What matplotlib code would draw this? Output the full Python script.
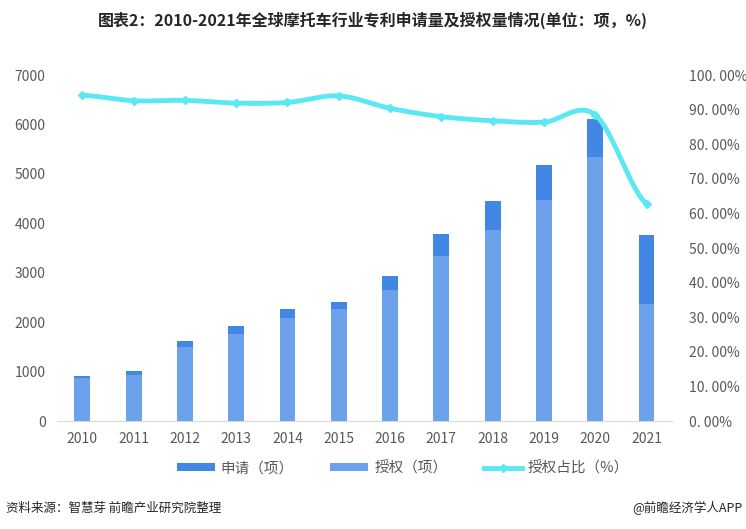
import matplotlib.pyplot as plt
import numpy as np

plt.rcParams['font.family'] = ['Noto Sans CJK SC', 'DejaVu Sans']

years = ['2010', '2011', '2012', '2013', '2014', '2015',
         '2016', '2017', '2018', '2019', '2020', '2021']
applied = [911, 1012, 1620, 1923, 2267, 2409, 2935, 3785, 4460, 5182, 6113, 3765]
granted = [870, 931, 1500, 1761, 2085, 2267, 2652, 3340, 3866, 4474, 5344, 2368]
ratio = [94.2, 92.6, 92.7, 91.9, 92.1, 94.0, 90.4, 88.0, 86.8, 86.4, 88.5, 62.8]

c_apply = '#4287e3'
c_grant = '#6ca1eb'
c_line = '#5ce8f2'
c_text = '#595959'

fig = plt.figure(figsize=(7.46, 5.29), dpi=100)
ax = fig.add_axes([0.076, 0.204, 0.825, 0.654])
x = np.arange(len(years))

ax.bar(x, applied, width=0.31, color=c_apply, label='申请（项）', zorder=2)
ax.bar(x, granted, width=0.31, color=c_grant, label='授权（项）', zorder=3)
ax.set_xlim(-0.5, len(years) - 0.5)
ax.set_ylim(0, 7000)
ax.set_yticks(range(0, 7001, 1000))
ax.set_xticks(x)
ax.set_xticklabels(years)
ax.tick_params(axis='both', length=0, labelsize=10, colors=c_text, pad=8)
for s in ['top', 'right', 'left']:
    ax.spines[s].set_visible(False)
ax.spines['bottom'].set_color('#d9d9d9')

# smoothed ratio line on secondary axis (Catmull-Rom through the data points)
ax2 = ax.twinx()
pts = np.array(ratio, dtype=float)
xs, ys = [], []
pad = np.concatenate([[pts[0]], pts, [pts[-1]]])
for i in range(len(pts) - 1):
    p0, p1, p2, p3 = pad[i], pad[i + 1], pad[i + 2], pad[i + 3]
    t = np.linspace(0, 1, 20, endpoint=False)
    seg = 0.5 * ((2 * p1) + (-p0 + p2) * t + (2 * p0 - 5 * p1 + 4 * p2 - p3) * t ** 2
                 + (-p0 + 3 * p1 - 3 * p2 + p3) * t ** 3)
    xs.extend(i + t)
    ys.extend(seg)
xs.append(len(pts) - 1)
ys.append(pts[-1])
ax2.plot(xs, ys, color=c_line, lw=3.5, zorder=4, solid_capstyle='round')
ax2.plot(x, ratio, ls='none', marker='D', ms=4, color=c_line, zorder=5)
line_handle = plt.Line2D([], [], color=c_line, lw=3.5, marker='D', ms=4)
ax2.set_ylim(0, 100)
ax2.set_yticks(range(0, 101, 10))
ax2.set_yticklabels([f'{v:.2f}%'.replace('.', '. ') for v in range(0, 101, 10)])
ax2.tick_params(axis='y', length=0, labelsize=10, colors=c_text, pad=12)
for s in ax2.spines.values():
    s.set_visible(False)

h, l = ax.get_legend_handles_labels()
fig.legend(h + [line_handle], l + ['授权占比（%）'], loc='center', ncol=3,
           bbox_to_anchor=(0.54, 0.115), frameon=False, fontsize=10.5,
           labelcolor=c_text, handlelength=2.6, handleheight=0.5,
           columnspacing=2.5, handletextpad=0.4)

fig.text(0.5, 0.962, '图表2：2010-2021年全球摩托车行业专利申请量及授权量情况(单位：项，%)',
         ha='center', va='center', fontsize=11.5, fontweight='bold', color='#262626')
fig.text(0.008, 0.04, '资料来源：智慧芽 前瞻产业研究院整理', ha='left', va='center',
         fontsize=9, color='#262626')
fig.text(0.995, 0.04, '@前瞻经济学人APP', ha='right', va='center',
         fontsize=9, color='#262626')

fig.savefig('out.png', dpi=100)
plt.close(fig)
